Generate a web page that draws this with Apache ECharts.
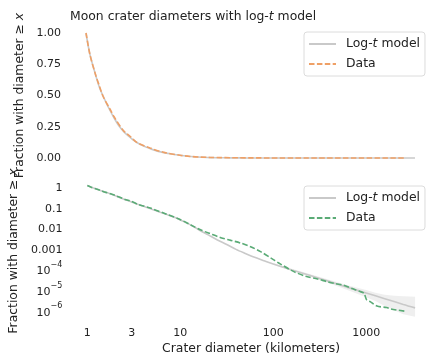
<!DOCTYPE html>
<html><head><meta charset="utf-8">
<script src="https://cdn.jsdelivr.net/npm/echarts@6/dist/echarts.min.js"></script>
<style>html,body{margin:0;padding:0;background:#fff}#c{width:438px;height:363px}</style>
</head><body><div id="c"></div>
<script>
// tick labels
const xTicks = [1, 3, 10, 100, 1000];
const yTopTicks = [0, 0.25, 0.5, 0.75, 1];
const yBottomTicks = [1, 0.1, 0.01, 0.001, 1e-4, 1e-5, 1e-6];

// log-t model (fraction with diameter >= x)
const modelX = [1, 1.1, 1.26, 1.4, 1.58, 1.78, 2.0, 2.24, 2.51, 2.82, 3.16, 3.55, 3.98, 4.47, 5.01, 5.62, 6.31, 7.08, 7.94, 8.91, 10, 12.6, 15.8, 20, 25.1, 31.6, 39.8, 50.1, 63.1, 79.4, 100, 158, 251, 398, 631, 1000, 1585, 2512, 3360];
const modelP = [1.0, 0.83, 0.67, 0.56, 0.47, 0.39, 0.32, 0.26, 0.215, 0.178, 0.148, 0.122, 0.102, 0.085, 0.071, 0.059, 0.049, 0.041, 0.034, 0.028, 0.022, 0.0135, 0.0075, 0.0042, 0.0024, 0.00145, 0.00085, 0.00054, 0.00035, 0.00024, 1.66e-4, 8.7e-5, 4.7e-5, 2.45e-5, 1.26e-5, 6.8e-6, 3.6e-6, 1.9e-6, 1.3e-6];

// observed data
const dataX = [1, 1.1, 1.25, 1.4, 1.53, 1.81, 2.0, 2.51, 3.0, 3.5, 4.85, 7.0, 10.2, 13, 16.7, 21, 27.3, 35, 44.8, 58, 73, 95, 120, 167, 229, 300, 378, 470, 570, 710, 860, 950, 1011, 1107, 1306, 1660, 1845, 2630];
const dataP = [1.0, 0.83, 0.68, 0.57, 0.49, 0.39, 0.33, 0.22, 0.17, 0.125, 0.08, 0.043, 0.022, 0.0126, 0.0072, 0.0048, 0.0031, 0.0023, 0.0017, 0.0011, 6.6e-4, 3.2e-4, 1.66e-4, 7.2e-5, 4.2e-5, 3.2e-5, 2.4e-5, 1.9e-5, 1.6e-5, 1.1e-5, 8e-6, 6.5e-6, 3.2e-6, 2.6e-6, 1.6e-6, 1.35e-6, 1.15e-6, 9e-7];

// model uncertainty band
const bandX = [100, 200, 400, 630, 1000, 1260, 1580, 2000, 2510, 3360];
const bandLow = [1.55e-4, 5.7e-5, 2.0e-5, 9.5e-6, 4.2e-6, 2.8e-6, 1.6e-6, 1.0e-6, 6.5e-7, 4.9e-7];
const bandHigh = [1.8e-4, 7.4e-5, 2.9e-5, 1.6e-5, 9.5e-6, 7.0e-6, 5.6e-6, 5.0e-6, 4.7e-6, 4.5e-6];

const FONT = 'DejaVu Sans';
const GREY = '#c9c9c9', ORANGE = '#efa066', GREEN = '#5aab76';
const pairs = (xs, ys) => xs.map((x, i) => [x, ys[i]]);

const chart = echarts.init(document.getElementById('c'), null, {renderer: 'canvas'});

const xCommon = {
  type: 'log', logBase: 10,
  min: Math.pow(10, -0.176), max: Math.pow(10, 3.7),
  axisLine: {show: false}, axisTick: {show: false}, splitLine: {show: false}
};
const nameRich = {
  n: {fontFamily: FONT, fontSize: 12.4, color: '#222', fontWeight: 'normal'},
  i: {fontFamily: FONT, fontSize: 12.4, color: '#222', fontWeight: 'normal', fontStyle: 'italic'}
};
const legendCommon = {
  orient: 'vertical', left: 304, itemWidth: 27, itemHeight: 14, itemGap: 8,
  padding: [6, 5, 6, 4], borderColor: '#dcdcdc', borderWidth: 1, borderRadius: 3,
  backgroundColor: 'rgba(255,255,255,0.8)',
  itemStyle: {color: 'rgba(0,0,0,0)', borderWidth: 0, opacity: 0},
  textStyle: {fontFamily: FONT, fontSize: 12.4, color: '#222', padding: [0, 0, 0, 5], rich: nameRich},
  formatter: name => name.startsWith('model') ? '{n|Log-}{i|t}{n| model}' : '{n|Data}'
};
const yName = '{n|Fraction with diameter ≥ }{i|x}';

chart.setOption({
  animation: false,
  backgroundColor: '#fff',
  title: {
    text: '{n|Moon crater diameters with log-}{i|t}{n| model}',
    left: 65, top: 6,
    textStyle: {fontWeight: 'normal', rich: nameRich}
  },
  grid: [
    {left: 69.6, right: 6.8, top: 26.75, height: 137.5},
    {left: 69.6, right: 6.8, top: 180.3, height: 141.4}
  ],
  xAxis: [
    Object.assign({gridIndex: 0, axisLabel: {show: false}}, xCommon),
    Object.assign({gridIndex: 1,
      name: 'Crater diameter (kilometers)', nameLocation: 'middle', nameGap: 21,
      nameTextStyle: {fontFamily: FONT, fontSize: 12.4, color: '#222'},
      axisLabel: {customValues: xTicks, fontFamily: FONT, fontSize: 11, color: '#222', margin: 6,
        formatter: v => String(Math.round(v))}}, xCommon)
  ],
  yAxis: [
    {gridIndex: 0, type: 'value', min: -0.05, max: 1.05,
      name: yName, nameLocation: 'middle', nameGap: 42, nameRotate: 90,
      nameTextStyle: {rich: nameRich},
      axisLine: {show: false}, axisTick: {show: false}, splitLine: {show: false},
      axisLabel: {customValues: yTopTicks, fontFamily: FONT, fontSize: 11, color: '#222', margin: 8.6,
        formatter: v => v.toFixed(2)}},
    {gridIndex: 1, type: 'log', logBase: 10, min: Math.pow(10, -6.55), max: Math.pow(10, 0.25),
      name: yName, nameLocation: 'middle', nameGap: 48, nameRotate: 90,
      nameTextStyle: {rich: nameRich},
      axisLine: {show: false}, axisTick: {show: false}, splitLine: {show: false},
      axisLabel: {customValues: yBottomTicks, fontFamily: FONT, fontSize: 11, color: '#222', margin: 8.6,
        formatter: v => {
          const e = Math.round(Math.log10(v));
          if (e >= -3) return '{b|' + String(Number(v.toPrecision(3))) + '}';
          return '{b|10}{s|−' + (-e) + '}';
        },
        rich: {
          b: {fontFamily: FONT, fontSize: 11, color: '#222', lineHeight: 16, verticalAlign: 'bottom'},
          s: {fontFamily: FONT, fontSize: 8, color: '#222', lineHeight: 16, verticalAlign: 'top'}
        }}}
  ],
  legend: [
    Object.assign({top: 32, data: ['model1', 'data1']}, legendCommon),
    Object.assign({top: 186, data: ['model2', 'data2']}, legendCommon)
  ],
  series: [
    {name: 'model1', type: 'line', xAxisIndex: 0, yAxisIndex: 0, data: pairs(modelX, modelP),
      symbol: 'none', smooth: 0.3, clip: false, lineStyle: {color: GREY, width: 1.6}, itemStyle: {color: GREY}, z: 2},
    {name: 'data1', type: 'line', xAxisIndex: 0, yAxisIndex: 0, data: pairs(dataX, dataP),
      symbol: 'none', smooth: 0.3, clip: false, lineStyle: {color: ORANGE, width: 1.6, type: [5.5, 2.4]}, itemStyle: {color: ORANGE}, z: 3},
    {name: 'band', type: 'custom', xAxisIndex: 1, yAxisIndex: 1,
      data: bandX.map((x, i) => [x, bandLow[i], bandHigh[i]]),
      encode: {x: 0, y: [1, 2]}, z: 1,
      renderItem: (params, api) => {
        if (params.dataIndex !== 0) return null;
        const top = bandX.map((x, i) => api.coord([x, bandHigh[i]]));
        const bot = bandX.map((x, i) => api.coord([x, bandLow[i]])).reverse();
        return {type: 'polygon', shape: {points: top.concat(bot)},
          style: {fill: 'rgba(190,190,190,0.25)', stroke: null}};
      }},
    {name: 'model2', type: 'line', xAxisIndex: 1, yAxisIndex: 1, data: pairs(modelX, modelP),
      symbol: 'none', smooth: 0.3, clip: false, lineStyle: {color: GREY, width: 1.6}, itemStyle: {color: GREY}, z: 2},
    {name: 'data2', type: 'line', xAxisIndex: 1, yAxisIndex: 1, data: pairs(dataX, dataP),
      symbol: 'none', smooth: 0.3, clip: false, lineStyle: {color: GREEN, width: 1.6, type: [5.5, 2.4]}, itemStyle: {color: GREEN}, z: 3}
  ]
});
</script></body></html>
